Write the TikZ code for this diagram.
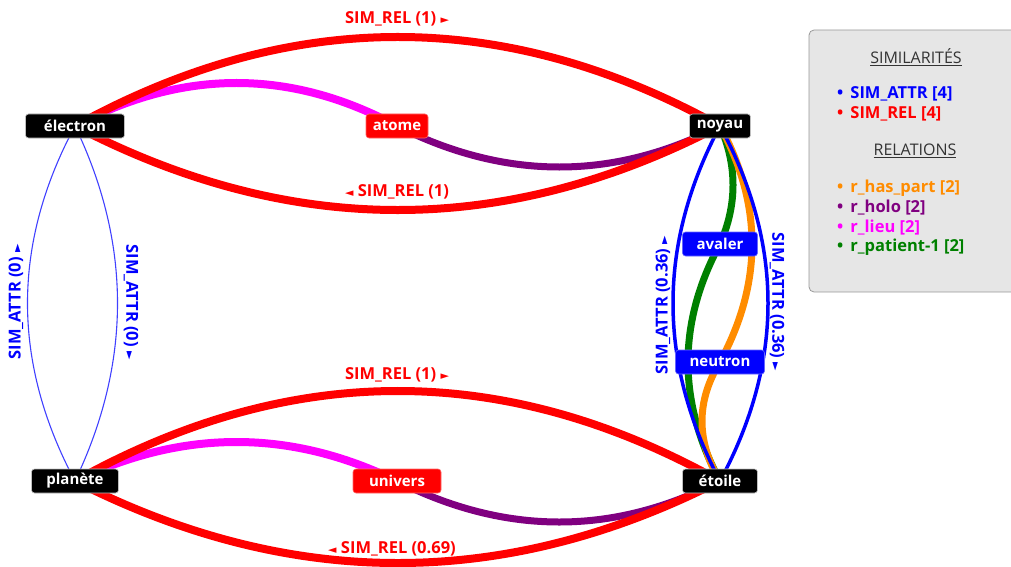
\documentclass[tikz,border=0pt]{standalone}
\usepackage{fontspec}
\setmainfont{Open Sans}
\newfontfamily\symf{DejaVu Sans}
\usetikzlibrary{calc}
\pgfdeclarelayer{bg}
\pgfsetlayers{bg,main}
\definecolor{cred}{HTML}{FF0000}
\definecolor{cmag}{HTML}{FF00FF}
\definecolor{cpur}{HTML}{800080}
\definecolor{cblue}{HTML}{0000FF}
\definecolor{cgreen}{HTML}{008000}
\definecolor{corange}{HTML}{FF8C00}
\definecolor{legfill}{HTML}{E6E6E6}
\definecolor{legtext}{HTML}{333333}
\newcommand\qcurve[4]{\draw[#1] (#2.center) .. controls ($(#2.center)!0.6667!(#4)$) and ($(#3.center)!0.6667!(#4)$) .. (#3.center);}
\newcommand\rarr{{\symf\fontsize{11}{12}\selectfont ►}}
\newcommand\larr{{\symf\fontsize{11}{12}\selectfont ◄}}
\tikzset{
  term/.style={rounded corners=3pt, text=white, font=\bfseries\fontsize{15}{17}\selectfont, minimum height=24pt, inner sep=0pt, draw=black!25, line width=0.6pt},
  blackbox/.style={term, fill=black},
  redbox/.style={term, fill=cred, draw=cred!60},
  bluebox/.style={term, fill=cblue, draw=cblue!60},
  lab/.style={font=\bfseries\fontsize{16.5}{18}\selectfont, inner sep=0pt},
  rel/.style={line width=8pt, cred},
  lieu/.style={line width=8pt, cmag},
  holo/.style={line width=7pt, cpur},
  attrthin/.style={line width=1.1pt, cblue!75},
  attrthick/.style={line width=3.5pt, cblue},
  patient/.style={line width=7pt, cgreen},
  haspart/.style={line width=7pt, corange},
  legitem/.style={anchor=west, font=\bfseries\fontsize{16.5}{18}\selectfont, inner sep=0pt},
  legtitle/.style={font=\fontsize{16}{18}\selectfont, text=legtext, inner sep=0pt},
}
\begin{document}
\begin{tikzpicture}[x=1pt,y=-1pt]
\useasboundingbox (0,0) rectangle (1011,567);
% nodes
\node[blackbox, minimum width=99pt] (electron) at (75,126) {électron};
\node[redbox, minimum width=62pt] (atome) at (397,126) {atome};
\node[blackbox, minimum width=61pt] (noyau) at (720,126) {noyau};
\node[bluebox, minimum width=75pt] (avaler) at (720,244) {avaler};
\node[bluebox, minimum width=89pt] (neutron) at (720,362) {neutron};
\node[blackbox, minimum width=87pt] (planete) at (75,481) {planète};
\node[redbox, minimum width=88pt] (univers) at (397,481) {univers};
\node[blackbox, minimum width=75pt] (etoile) at (720,481) {étoile};
% control points
\coordinate (c1) at (398,-52);
\coordinate (c2) at (398,294);
\coordinate (c3) at (237,40);
\coordinate (c4) at (560,208);
\coordinate (c5) at (398,301);
\coordinate (c6) at (398,645);
\coordinate (c7) at (237,403);
\coordinate (c8) at (560,563);
\coordinate (c9) at (-20,303);
\coordinate (c10) at (160,303);
\coordinate (c11) at (626,303);
\coordinate (c12) at (816,303);
\coordinate (c13) at (746,185);
\coordinate (c14) at (784,244);
\coordinate (c15) at (656,362);
\coordinate (c16) at (684,421);
\begin{pgfonlayer}{bg}
\qcurve{lieu}{electron}{atome}{c3}
\qcurve{rel}{electron}{noyau}{c1}
\qcurve{holo}{atome}{noyau}{c4}
\qcurve{rel}{electron}{noyau}{c2}
\qcurve{lieu}{planete}{univers}{c7}
\qcurve{rel}{planete}{etoile}{c5}
\qcurve{holo}{univers}{etoile}{c8}
\qcurve{rel}{planete}{etoile}{c6}
\qcurve{attrthin}{electron}{planete}{c9}
\qcurve{attrthin}{electron}{planete}{c10}
\qcurve{patient}{noyau}{avaler}{c13}
\qcurve{patient}{avaler}{etoile}{c15}
\qcurve{haspart}{noyau}{neutron}{c14}
\qcurve{haspart}{neutron}{etoile}{c16}
\qcurve{attrthick}{noyau}{etoile}{c11}
\qcurve{attrthick}{noyau}{etoile}{c12}
\end{pgfonlayer}
% edge labels
\node[lab, text=cred] (l1) at (397,19) {SIM\_REL (1) \rarr};
\node[lab, text=cred] (l2) at (397,192) {\larr\ SIM\_REL (1)};
\node[lab, text=cred] (l3) at (397,375) {SIM\_REL (1) \rarr};
\node[lab, text=cred] (l4) at (392,549) {\larr\ SIM\_REL (0.69)};
\node[lab, text=cblue, rotate=90] (l5) at (16,302) {SIM\_ATTR (0) \rarr};
\node[lab, text=cblue, rotate=-90] (l6) at (131,302) {SIM\_ATTR (0) \rarr};
\node[lab, text=cblue, rotate=90] (l7) at (663,305) {SIM\_ATTR (0.36) \rarr};
\node[lab, text=cblue, rotate=-90] (l8) at (777,302) {SIM\_ATTR (0.36) \rarr};
% legend
\draw[fill=legfill, draw=black!40, line width=0.8pt, rounded corners=5pt] (809,30) rectangle (1025,292);
\node[legtitle] (t1) at (916,57) {\underline{SIMILARITÉS}};
\node[legitem, text=cblue] (s1) at (837,94) {•\hspace{7pt}SIM\_ATTR [4]};
\node[legitem, text=cred] (s2) at (837,114) {•\hspace{7pt}SIM\_REL [4]};
\node[legtitle] (t2) at (915,151) {\underline{RELATIONS}};
\node[legitem, text=corange] (r1) at (837,188) {•\hspace{7pt}r\_has\_part [2]};
\node[legitem, text=cpur] (r2) at (837,208) {•\hspace{7pt}r\_holo [2]};
\node[legitem, text=cmag] (r3) at (837,228) {•\hspace{7pt}r\_lieu [2]};
\node[legitem, text=cgreen] (r4) at (837,247) {•\hspace{7pt}r\_patient-1 [2]};
\end{tikzpicture}
\end{document}
